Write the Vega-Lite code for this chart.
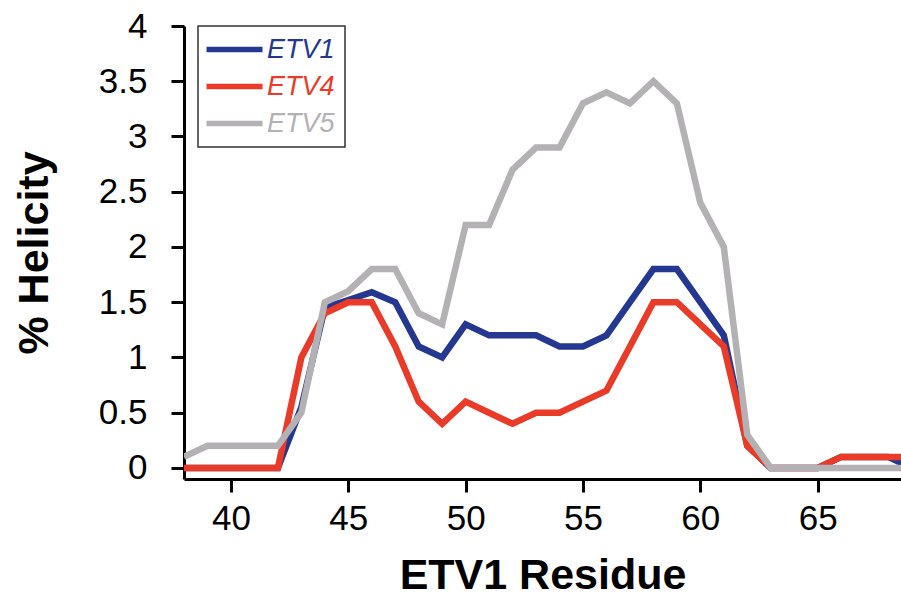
{
  "$schema": "https://vega.github.io/schema/vega-lite/v6.json",
  "width": 717,
  "height": 453,
  "autosize": {"type": "none"},
  "padding": {"left": 184, "top": 26, "right": 0, "bottom": 117},
  "background": "white",
  "config": {
    "view": {"stroke": null},
    "font": "Liberation Sans"
  },
  "datasets": {
    "helix": [
      {"residue": 38, "protein": "ETV1", "helicity": 0},
      {"residue": 39, "protein": "ETV1", "helicity": 0},
      {"residue": 40, "protein": "ETV1", "helicity": 0},
      {"residue": 41, "protein": "ETV1", "helicity": 0},
      {"residue": 42, "protein": "ETV1", "helicity": 0},
      {"residue": 43, "protein": "ETV1", "helicity": 0.55},
      {"residue": 44, "protein": "ETV1", "helicity": 1.45},
      {"residue": 45, "protein": "ETV1", "helicity": 1.52},
      {"residue": 46, "protein": "ETV1", "helicity": 1.59},
      {"residue": 47, "protein": "ETV1", "helicity": 1.5},
      {"residue": 48, "protein": "ETV1", "helicity": 1.1},
      {"residue": 49, "protein": "ETV1", "helicity": 1.0},
      {"residue": 50, "protein": "ETV1", "helicity": 1.3},
      {"residue": 51, "protein": "ETV1", "helicity": 1.2},
      {"residue": 52, "protein": "ETV1", "helicity": 1.2},
      {"residue": 53, "protein": "ETV1", "helicity": 1.2},
      {"residue": 54, "protein": "ETV1", "helicity": 1.1},
      {"residue": 55, "protein": "ETV1", "helicity": 1.1},
      {"residue": 56, "protein": "ETV1", "helicity": 1.2},
      {"residue": 57, "protein": "ETV1", "helicity": 1.5},
      {"residue": 58, "protein": "ETV1", "helicity": 1.8},
      {"residue": 59, "protein": "ETV1", "helicity": 1.8},
      {"residue": 60, "protein": "ETV1", "helicity": 1.5},
      {"residue": 61, "protein": "ETV1", "helicity": 1.2},
      {"residue": 62, "protein": "ETV1", "helicity": 0.2},
      {"residue": 63, "protein": "ETV1", "helicity": 0},
      {"residue": 64, "protein": "ETV1", "helicity": 0},
      {"residue": 65, "protein": "ETV1", "helicity": 0},
      {"residue": 66, "protein": "ETV1", "helicity": 0.1},
      {"residue": 67, "protein": "ETV1", "helicity": 0.1},
      {"residue": 68, "protein": "ETV1", "helicity": 0.1},
      {"residue": 69, "protein": "ETV1", "helicity": 0},
      {"residue": 38, "protein": "ETV4", "helicity": 0},
      {"residue": 39, "protein": "ETV4", "helicity": 0},
      {"residue": 40, "protein": "ETV4", "helicity": 0},
      {"residue": 41, "protein": "ETV4", "helicity": 0},
      {"residue": 42, "protein": "ETV4", "helicity": 0},
      {"residue": 43, "protein": "ETV4", "helicity": 1.0},
      {"residue": 44, "protein": "ETV4", "helicity": 1.4},
      {"residue": 45, "protein": "ETV4", "helicity": 1.5},
      {"residue": 46, "protein": "ETV4", "helicity": 1.5},
      {"residue": 47, "protein": "ETV4", "helicity": 1.1},
      {"residue": 48, "protein": "ETV4", "helicity": 0.6},
      {"residue": 49, "protein": "ETV4", "helicity": 0.4},
      {"residue": 50, "protein": "ETV4", "helicity": 0.6},
      {"residue": 51, "protein": "ETV4", "helicity": 0.5},
      {"residue": 52, "protein": "ETV4", "helicity": 0.4},
      {"residue": 53, "protein": "ETV4", "helicity": 0.5},
      {"residue": 54, "protein": "ETV4", "helicity": 0.5},
      {"residue": 55, "protein": "ETV4", "helicity": 0.6},
      {"residue": 56, "protein": "ETV4", "helicity": 0.7},
      {"residue": 57, "protein": "ETV4", "helicity": 1.1},
      {"residue": 58, "protein": "ETV4", "helicity": 1.5},
      {"residue": 59, "protein": "ETV4", "helicity": 1.5},
      {"residue": 60, "protein": "ETV4", "helicity": 1.3},
      {"residue": 61, "protein": "ETV4", "helicity": 1.1},
      {"residue": 62, "protein": "ETV4", "helicity": 0.2},
      {"residue": 63, "protein": "ETV4", "helicity": 0},
      {"residue": 64, "protein": "ETV4", "helicity": 0},
      {"residue": 65, "protein": "ETV4", "helicity": 0},
      {"residue": 66, "protein": "ETV4", "helicity": 0.1},
      {"residue": 67, "protein": "ETV4", "helicity": 0.1},
      {"residue": 68, "protein": "ETV4", "helicity": 0.1},
      {"residue": 69, "protein": "ETV4", "helicity": 0.1},
      {"residue": 38, "protein": "ETV5", "helicity": 0.1},
      {"residue": 39, "protein": "ETV5", "helicity": 0.2},
      {"residue": 40, "protein": "ETV5", "helicity": 0.2},
      {"residue": 41, "protein": "ETV5", "helicity": 0.2},
      {"residue": 42, "protein": "ETV5", "helicity": 0.2},
      {"residue": 43, "protein": "ETV5", "helicity": 0.5},
      {"residue": 44, "protein": "ETV5", "helicity": 1.5},
      {"residue": 45, "protein": "ETV5", "helicity": 1.6},
      {"residue": 46, "protein": "ETV5", "helicity": 1.8},
      {"residue": 47, "protein": "ETV5", "helicity": 1.8},
      {"residue": 48, "protein": "ETV5", "helicity": 1.4},
      {"residue": 49, "protein": "ETV5", "helicity": 1.3},
      {"residue": 50, "protein": "ETV5", "helicity": 2.2},
      {"residue": 51, "protein": "ETV5", "helicity": 2.2},
      {"residue": 52, "protein": "ETV5", "helicity": 2.7},
      {"residue": 53, "protein": "ETV5", "helicity": 2.9},
      {"residue": 54, "protein": "ETV5", "helicity": 2.9},
      {"residue": 55, "protein": "ETV5", "helicity": 3.3},
      {"residue": 56, "protein": "ETV5", "helicity": 3.4},
      {"residue": 57, "protein": "ETV5", "helicity": 3.3},
      {"residue": 58, "protein": "ETV5", "helicity": 3.5},
      {"residue": 59, "protein": "ETV5", "helicity": 3.3},
      {"residue": 60, "protein": "ETV5", "helicity": 2.4},
      {"residue": 61, "protein": "ETV5", "helicity": 2.0},
      {"residue": 62, "protein": "ETV5", "helicity": 0.3},
      {"residue": 63, "protein": "ETV5", "helicity": 0},
      {"residue": 64, "protein": "ETV5", "helicity": 0},
      {"residue": 65, "protein": "ETV5", "helicity": 0},
      {"residue": 66, "protein": "ETV5", "helicity": 0},
      {"residue": 67, "protein": "ETV5", "helicity": 0},
      {"residue": 68, "protein": "ETV5", "helicity": 0},
      {"residue": 69, "protein": "ETV5", "helicity": 0}
    ]
  },
  "data": {"name": "helix"},
  "mark": {"type": "line", "strokeWidth": 6.5, "clip": true, "strokeJoin": "miter"},
  "encoding": {
    "x": {
      "field": "residue",
      "type": "quantitative",
      "scale": {"domain": [38, 68.55], "nice": false, "zero": false},
      "axis": {
        "title": "ETV1 Residue",
        "values": [40, 45, 50, 55, 60, 65],
        "grid": false,
        "domainColor": "black",
        "domainWidth": 3,
        "tickColor": "black",
        "tickWidth": 3,
        "tickSize": 13,
        "labelFont": "Liberation Sans",
        "labelFontSize": 35,
        "labelColor": "black",
        "labelPadding": 9,
        "titleFont": "Liberation Sans",
        "titleFontSize": 43,
        "titleFontWeight": "bold",
        "titleColor": "black",
        "titleBaseline": "alphabetic",
        "titleY": 109
      }
    },
    "y": {
      "field": "helicity",
      "type": "quantitative",
      "scale": {"domain": [-0.1, 4], "nice": false, "zero": false},
      "axis": {
        "title": "% Helicity",
        "values": [0, 0.5, 1, 1.5, 2, 2.5, 3, 3.5, 4],
        "format": "~g",
        "grid": false,
        "domainColor": "black",
        "domainWidth": 3,
        "tickColor": "black",
        "tickWidth": 3,
        "tickSize": 13,
        "labelFont": "Liberation Sans",
        "labelFontSize": 35,
        "labelColor": "black",
        "labelPadding": 24,
        "titleFont": "Liberation Sans",
        "titleFontSize": 43,
        "titleFontWeight": "bold",
        "titleColor": "black",
        "titleBaseline": "alphabetic",
        "titleX": -137
      }
    },
    "color": {
      "field": "protein",
      "type": "nominal",
      "scale": {"domain": ["ETV1", "ETV4", "ETV5"], "range": ["#243892", "#e93b27", "#b4b1b4"]},
      "legend": {
        "title": null,
        "orient": "none",
        "legendX": 14,
        "legendY": 0,
        "padding": 10,
        "rowPadding": 9,
        "fillColor": "white",
        "strokeColor": "#333333",
        "symbolType": "M-2.14,0H5.86",
        "symbolSize": 196,
        "symbolStrokeWidth": 5.5,
        "labelFont": "Liberation Sans",
        "labelFontSize": 27,
        "labelFontStyle": "italic",
        "labelOffset": 32,
        "labelExpr": "datum.label + '\u00a0\u00a0'",
        "encode": {
          "labels": {"update": {"fill": {"scale": "color", "field": "value"}}},
          "legend": {"update": {"strokeWidth": {"value": 1.5}}}
        }
      }
    }
  }
}
